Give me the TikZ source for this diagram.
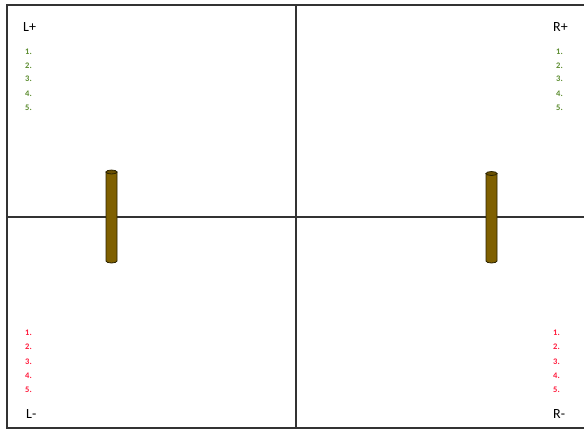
\documentclass[tikz,border=0pt]{standalone}
\usepackage{fontspec}
\setmainfont{Carlito}
\definecolor{frame}{HTML}{333333}
\definecolor{rod}{HTML}{7F6000}
\definecolor{rodtop}{HTML}{6A5000}
\definecolor{rodline}{HTML}{2A2200}
\definecolor{grn}{HTML}{5B8C2E}
\definecolor{rd}{HTML}{FF1A3C}
\begin{document}
\begin{tikzpicture}[x=1pt,y=-1pt,
  gridline/.style={draw=frame,line width=1.2pt},
  corner/.style={font=\fontsize{14}{14}\selectfont,text=black,inner sep=0pt},
  gnum/.style={font=\fontsize{8.5}{8.5}\selectfont\bfseries,text=grn,inner sep=0pt,anchor=west},
  rnum/.style={font=\fontsize{8.5}{8.5}\selectfont\bfseries,text=rd,inner sep=0pt,anchor=west},
  rodbody/.style={draw=rodline,fill=rod,line width=0.8pt},
  rodcap/.style={draw=rodline,fill=rodtop,line width=0.8pt}]
\useasboundingbox (0,0) rectangle (584,432);
% frame
\coordinate (tl) at (7,5);
\coordinate (bl) at (7,428);
\coordinate (tr) at (590,5);
\coordinate (br) at (590,428);
\coordinate (vt) at (296,5);
\coordinate (vb) at (296,428);
\coordinate (hl) at (7,217);
\coordinate (hr) at (590,217);
\draw[gridline] (tr) -- (tl) -- (bl) -- (br);
\draw[gridline] (vt) -- (vb);
\draw[gridline] (hl) -- (hr);
% rods
\foreach \n/\x/\t in {rodL/111.5/172,rodR/491.5/173.5}{
  \draw[rodbody] (\x-5.5,\t) -- (\x-5.5,261) arc[start angle=180,end angle=0,x radius=5.5,y radius=2] -- (\x+5.5,\t) -- cycle;
  \draw[rodcap] (\x,\t) ellipse[x radius=5.5,y radius=2];
  \coordinate (\n) at (\x,217);
}
% corner labels
\node[corner,anchor=west] (lp) at (23,27) {L+};
\node[corner,anchor=west] (rp) at (553,27) {R+};
\node[corner,anchor=west] (lm) at (26,414) {L-};
\node[corner,anchor=west] (rm) at (553,414) {R-};
% green lists
\foreach \i/\y in {1/51.5,2/65.5,3/79,4/93.5,5/107.5}{
  \node[gnum] (lg\i) at (25,\y) {\i.};
  \node[gnum] (rg\i) at (556,\y) {\i.};
}
% red lists
\foreach \i/\y in {1/332.5,2/347,3/361.5,4/376,5/389.5}{
  \node[rnum] (lr\i) at (25,\y) {\i.};
  \node[rnum] (rr\i) at (553,\y) {\i.};
}
\end{tikzpicture}
\end{document}
